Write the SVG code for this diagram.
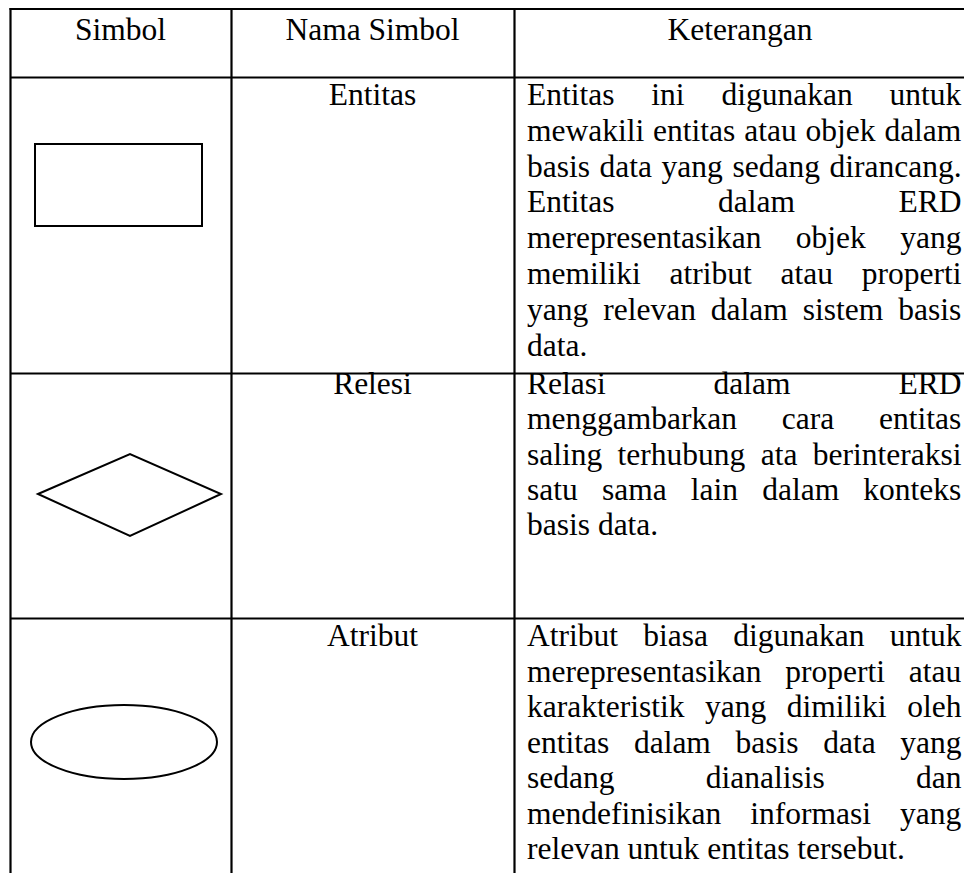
<svg xmlns="http://www.w3.org/2000/svg" width="964" height="873" viewBox="0 0 964 873">
<style>
  text { font-family: "Liberation Serif", "Times New Roman", serif; font-size: 31.5px; fill: #000; }
  .c { text-anchor: middle; }
  .grid line { stroke: #000; stroke-width: 2.2; }
  .sym { fill: none; stroke: #000; stroke-width: 2; }
</style>
<rect x="0" y="0" width="964" height="873" fill="#fff"/>
<g id="grid" class="grid">
  <line x1="9.5" y1="9" x2="964" y2="9"/>
  <line x1="10.5" y1="8" x2="10.5" y2="873"/>
  <line x1="231.5" y1="8" x2="231.5" y2="873"/>
  <line x1="514.5" y1="8" x2="514.5" y2="873"/>
  <line x1="10" y1="77.5" x2="964" y2="77.5"/>
  <line x1="10" y1="373.5" x2="964" y2="373.5"/>
  <line x1="10" y1="618.5" x2="964" y2="618.5"/>
</g>
<g id="header">
  <text class="c" x="120.5" y="40">Simbol</text>
  <text class="c" x="372.5" y="40">Nama Simbol</text>
  <text class="c" x="740" y="40">Keterangan</text>
</g>
<g id="row-entitas">
  <rect class="sym" x="35" y="144" width="167" height="82"/>
  <text class="c" x="372.5" y="105">Entitas</text>
  <text x="527" y="105" style="word-spacing:29px">Entitas ini digunakan untuk</text>
  <text x="527" y="140.8" style="word-spacing:1px">mewakili entitas atau objek dalam</text>
  <text x="527" y="176.6" style="word-spacing:1.7px">basis data yang sedang dirancang.</text>
  <text x="527" y="212.4" style="word-spacing:95.6px">Entitas dalam ERD</text>
  <text x="527" y="248.2" style="word-spacing:26.6px">merepresentasikan objek yang</text>
  <text x="527" y="284" style="word-spacing:20.9px">memiliki atribut atau properti</text>
  <text x="527" y="319.8" style="word-spacing:7.1px">yang relevan dalam sistem basis</text>
  <text x="527" y="355.6">data.</text>
</g>
<g id="row-relasi">
  <polygon class="sym" points="38,494 130,454 221,494 130,536"/>
  <text class="c" x="372.5" y="394">Relesi</text>
  <text x="527" y="394" style="word-spacing:100px">Relasi dalam ERD</text>
  <text x="527" y="429.3" style="word-spacing:37px">menggambarkan cara entitas</text>
  <text x="527" y="464.6" style="word-spacing:7.5px">saling terhubung ata berinteraksi</text>
  <text x="527" y="499.9" style="word-spacing:16.3px">satu sama lain dalam konteks</text>
  <text x="527" y="535.2">basis data.</text>
</g>
<g id="row-atribut">
  <ellipse class="sym" cx="124" cy="742" rx="93" ry="37"/>
  <text class="c" x="372.5" y="646">Atribut</text>
  <text x="527" y="646" style="word-spacing:17.4px">Atribut biasa digunakan untuk</text>
  <text x="527" y="681.5" style="word-spacing:16px">merepresentasikan properti atau</text>
  <text x="527" y="717" style="word-spacing:12.7px">karakteristik yang dimiliki oleh</text>
  <text x="527" y="752.5" style="word-spacing:16.8px">entitas dalam basis data yang</text>
  <text x="527" y="788" style="word-spacing:83.4px">sedang dianalisis dan</text>
  <text x="527" y="823.5" style="word-spacing:21.2px">mendefinisikan informasi yang</text>
  <text x="527" y="859">relevan untuk entitas tersebut.</text>
</g>
</svg>
